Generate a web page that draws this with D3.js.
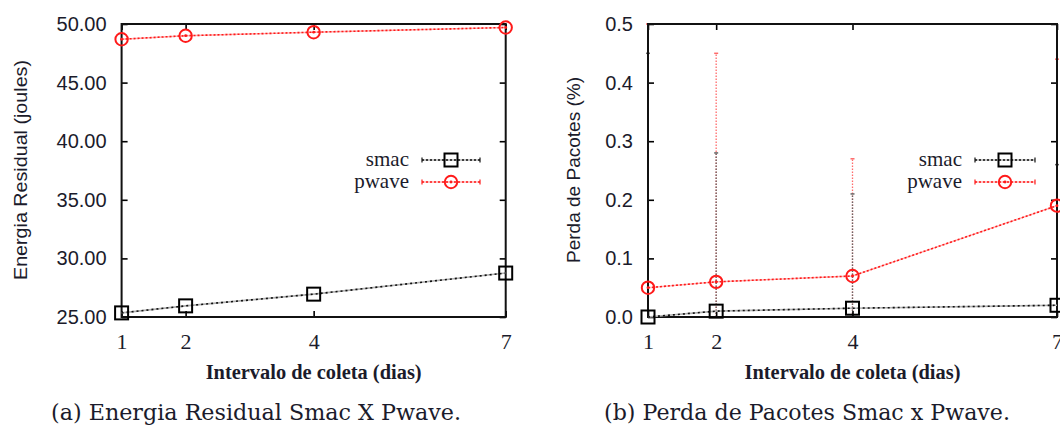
<!DOCTYPE html>
<html>
<head>
<meta charset="utf-8">
<script src="https://cdn.jsdelivr.net/npm/d3@7"></script>
<style>
  body { margin: 0; background: #fff; }
  svg { display: block; }
  .tick text { fill: #1b1b2b; }
</style>
</head>
<body>
<div id="chart"></div>
<script>
let w = 1060;
let h = 428;

// data
let days = [1, 2, 4, 7];
let dayTicks = [1, 2, 4, 7];

let energySmac = [25.35, 25.95, 26.95, 28.75];
let energyPwave = [48.7, 49.0, 49.3, 49.7];
let energyTicks = [25, 30, 35, 40, 45, 50];

let lossSmac = [0.0, 0.01, 0.015, 0.02];
let lossPwave = [0.05, 0.06, 0.07, 0.19];
let lossSmacHigh = [0.45, 0.28, 0.21, 0.26];
let lossPwaveHigh = [0.5, 0.45, 0.27, 0.44];
let lossSmacLow = [0, 0, 0, 0];
let lossPwaveLow = [0, 0, 0, 0];
let lossTicks = [0, 0.1, 0.2, 0.3, 0.4, 0.5];

let seriesNames = ["smac", "pwave"];

let textCol = "#1b1b2b";
let red = "#ff1a1a";

var svg = d3.select("#chart")
    .append("svg")
    .attr("width", w)
    .attr("height", h);

let drawPanel = function (p) {
    let x = d3.scaleLinear().domain([1, 7]).range([p.left, p.right]);
    let y = d3.scaleLinear().domain(p.yDomain).range([317, 24]);
    let g = svg.append("g");

    // error bars first, the frame covers the ones on the border
    if (p.errors) {
        p.errors.forEach(e => {
            g.selectAll(null)
                .data(days)
                .enter()
                .append("line")
                .attr("x1", (d) => x(d))
                .attr("x2", (d) => x(d))
                .attr("y1", (d, i) => y(e.low[i]))
                .attr("y2", (d, i) => y(e.high[i]))
                .attr("stroke", e.color)
                .attr("stroke-width", 1.3)
                .attr("stroke-dasharray", "1.5,1.5");
            g.selectAll(null)
                .data(days)
                .enter()
                .append("line")
                .attr("x1", (d) => x(d) - 2)
                .attr("x2", (d) => x(d) + 2)
                .attr("y1", (d, i) => y(e.high[i]))
                .attr("y2", (d, i) => y(e.high[i]))
                .attr("stroke", e.color)
                .attr("stroke-width", 1.5);
        });
    }

    // inward ticks on all four sides (gnuplot style)
    g.append("g")
        .attr("transform", "translate(" + p.left + ",0)")
        .call(d3.axisLeft(y).tickValues(p.yTicks).tickFormat(d3.format(p.fmt)).tickSize(-6).tickPadding(15))
        .call(a => a.select(".domain").remove())
        .call(a => a.selectAll("text").attr("font-family", "Liberation Sans").attr("font-size", 20));

    g.append("g")
        .attr("transform", "translate(" + p.right + ",0)")
        .call(d3.axisRight(y).tickValues(p.yTicks).tickFormat("").tickSize(-6))
        .call(a => a.select(".domain").remove());

    g.append("g")
        .attr("transform", "translate(0,317)")
        .call(d3.axisBottom(x).tickValues(dayTicks).tickFormat(d3.format("d")).tickSize(-6).tickPadding(16))
        .call(a => a.select(".domain").remove())
        .call(a => a.selectAll("text").attr("font-family", "Liberation Serif").attr("font-size", 22));

    g.append("g")
        .attr("transform", "translate(0,24)")
        .call(d3.axisTop(x).tickValues(dayTicks).tickFormat("").tickSize(-6))
        .call(a => a.select(".domain").remove());

    g.selectAll(".tick line").attr("stroke", "#000").attr("stroke-width", 1.6);

    g.append("rect")
        .attr("x", p.left)
        .attr("y", 24)
        .attr("width", p.right - p.left)
        .attr("height", 317 - 24)
        .attr("fill", "none")
        .attr("stroke", "#111")
        .attr("stroke-width", 2);

    let line = d3.line()
        .x((d) => x(d[0]))
        .y((d) => y(d[1]));

    let smacPts = d3.zip(days, p.smac);
    let pwavePts = d3.zip(days, p.pwave);

    // smac: dark dotted over grey
    g.append("path").datum(smacPts).attr("d", line)
        .attr("fill", "none").attr("stroke", "#b0b0b0").attr("stroke-width", 1.6);
    g.append("path").datum(smacPts).attr("d", line)
        .attr("fill", "none").attr("stroke", "#111").attr("stroke-width", 1.6)
        .attr("stroke-dasharray", "2,3");

    // pwave: red dotted over pink
    g.append("path").datum(pwavePts).attr("d", line)
        .attr("fill", "none").attr("stroke", "#ffb3b3").attr("stroke-width", 1.4);
    g.append("path").datum(pwavePts).attr("d", line)
        .attr("fill", "none").attr("stroke", red).attr("stroke-width", 1.6)
        .attr("stroke-dasharray", "2,2");

    g.selectAll(null)
        .data(pwavePts)
        .enter()
        .append("circle")
        .attr("cx", (d) => x(d[0]))
        .attr("cy", (d) => y(d[1]))
        .attr("r", 6.2)
        .attr("fill", "none")
        .attr("stroke", red)
        .attr("stroke-width", 2);
    g.selectAll(null)
        .data(pwavePts)
        .enter()
        .append("circle")
        .attr("cx", (d) => x(d[0]))
        .attr("cy", (d) => y(d[1]))
        .attr("r", 1.4)
        .attr("fill", red);

    g.selectAll(null)
        .data(smacPts)
        .enter()
        .append("rect")
        .attr("x", (d) => x(d[0]) - 6.5)
        .attr("y", (d) => y(d[1]) - 6.5)
        .attr("width", 13)
        .attr("height", 13)
        .attr("fill", "none")
        .attr("stroke", "#000")
        .attr("stroke-width", 2);

    // legend
    let lg = g.append("g");
    let legY = [160, 182];
    seriesNames.forEach((name, i) => {
        lg.append("text")
            .attr("x", p.legText)
            .attr("y", legY[i] + 6)
            .attr("text-anchor", "end")
            .attr("font-family", "Liberation Serif")
            .attr("font-size", 21)
            .attr("fill", textCol)
            .text(name);
        let col = i === 0 ? "#111" : red;
        lg.append("line")
            .attr("x1", p.legLine[0]).attr("x2", p.legLine[1])
            .attr("y1", legY[i]).attr("y2", legY[i])
            .attr("stroke", i === 0 ? "#b0b0b0" : "#ffb3b3").attr("stroke-width", 1.4);
        lg.append("line")
            .attr("x1", p.legLine[0]).attr("x2", p.legLine[1])
            .attr("y1", legY[i]).attr("y2", legY[i])
            .attr("stroke", col).attr("stroke-width", 1.6)
            .attr("stroke-dasharray", "2,2");
        [p.legLine[0], p.legLine[1]].forEach(xx => {
            lg.append("line")
                .attr("x1", xx).attr("x2", xx)
                .attr("y1", legY[i] - 2.5).attr("y2", legY[i] + 2.5)
                .attr("stroke", col).attr("stroke-width", 1.2);
        });
        let mx = (p.legLine[0] + p.legLine[1]) / 2;
        if (i === 0) {
            lg.append("rect")
                .attr("x", mx - 6.5).attr("y", legY[i] - 6.5)
                .attr("width", 13).attr("height", 13)
                .attr("fill", "none").attr("stroke", "#000").attr("stroke-width", 2);
        } else {
            lg.append("circle")
                .attr("cx", mx).attr("cy", legY[i]).attr("r", 6.2)
                .attr("fill", "none").attr("stroke", red).attr("stroke-width", 2);
            lg.append("circle")
                .attr("cx", mx).attr("cy", legY[i]).attr("r", 1.4)
                .attr("fill", red);
        }
    });

    // axis titles
    g.append("text")
        .attr("transform", "translate(" + p.yTitleX + ",170) rotate(-90)")
        .attr("text-anchor", "middle")
        .attr("dy", "0.35em")
        .attr("font-family", "Liberation Sans")
        .attr("font-size", 19)
        .attr("textLength", p.yTitleLen)
        .attr("lengthAdjust", "spacingAndGlyphs")
        .attr("fill", textCol)
        .text(p.yTitle);

    g.append("text")
        .attr("x", (p.left + p.right) / 2)
        .attr("y", 379)
        .attr("text-anchor", "middle")
        .attr("font-family", "Liberation Serif")
        .attr("font-weight", "bold")
        .attr("font-size", 20)
        .attr("textLength", 216)
        .attr("lengthAdjust", "spacingAndGlyphs")
        .attr("fill", textCol)
        .text("Intervalo de coleta (dias)");

    g.append("text")
        .attr("x", p.capX)
        .attr("y", 420)
        .attr("text-anchor", "middle")
        .attr("font-family", "DejaVu Serif")
        .attr("font-size", 22)
        .attr("textLength", p.capLen)
        .attr("lengthAdjust", "spacingAndGlyphs")
        .attr("fill", textCol)
        .text(p.caption);
};

drawPanel({
    left: 121.6, right: 505.7,
    yDomain: [25, 50], yTicks: energyTicks, fmt: ".2f",
    smac: energySmac, pwave: energyPwave,
    legText: 409, legLine: [422, 480],
    yTitle: "Energia Residual (joules)", yTitleX: 20, yTitleLen: 220,
    caption: "(a) Energia Residual Smac X Pwave.", capX: 256, capLen: 410
});

drawPanel({
    left: 648, right: 1057,
    yDomain: [0, 0.5], yTicks: lossTicks, fmt: ".1f",
    smac: lossSmac, pwave: lossPwave,
    errors: [
        { low: lossPwaveLow, high: lossPwaveHigh, color: "#ff6b6b" },
        { low: lossSmacLow, high: lossSmacHigh, color: "#666" }
    ],
    legText: 962, legLine: [975, 1035],
    yTitle: "Perda de Pacotes (%)", yTitleX: 573, yTitleLen: 186,
    caption: "(b) Perda de Pacotes Smac x Pwave.", capX: 807, capLen: 406
});
</script>
</body>
</html>
